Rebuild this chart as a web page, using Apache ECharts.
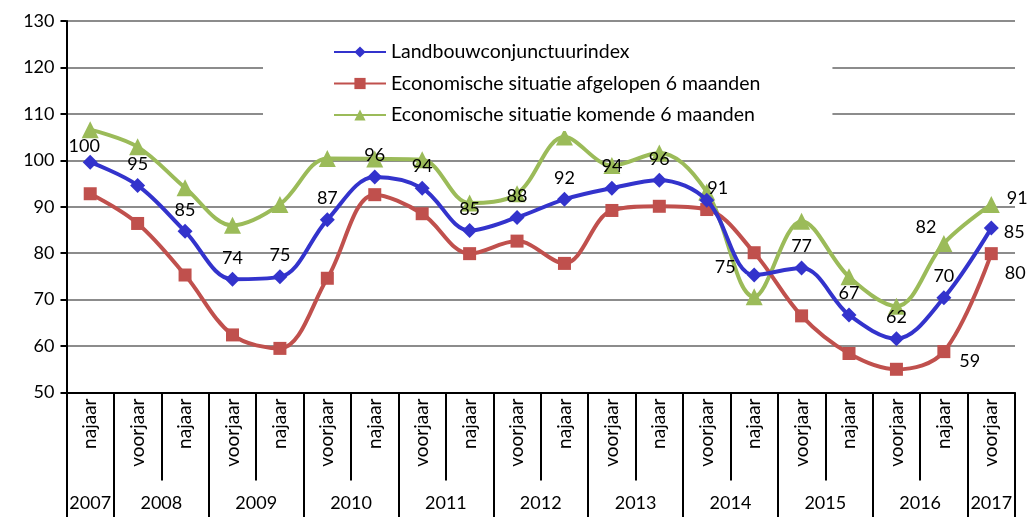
<!DOCTYPE html>
<html>
<head>
<meta charset="utf-8">
<script src="https://cdn.jsdelivr.net/npm/echarts@6/dist/echarts.min.js"></script>
<style>
  html, body { margin: 0; padding: 0; background: #fff; }
  #chart { width: 1031px; height: 517px; }
</style>
</head>
<body>
<div id="chart"></div>
<script>
// ---- data ----
const seasons = ['najaar','voorjaar','najaar','voorjaar','najaar','voorjaar','najaar','voorjaar','najaar','voorjaar',
                 'najaar','voorjaar','najaar','voorjaar','najaar','voorjaar','najaar','voorjaar','najaar','voorjaar'];
const seasonYears = ['2007','2008','2008','2009','2009','2010','2010','2011','2011','2012',
                     '2012','2013','2013','2014','2014','2015','2015','2016','2016','2017'];
const landbouw = [99.6, 94.6, 84.7, 74.4, 74.9, 87.2, 96.4, 94.0, 84.9, 87.7,
                  91.6, 94.0, 95.7, 91.4, 75.3, 76.8, 66.7, 61.6, 70.4, 85.4];
const afgelopen = [92.8, 86.4, 75.3, 62.4, 59.5, 74.6, 92.6, 88.5, 79.9, 82.6,
                   77.8, 89.2, 90.1, 89.4, 80.1, 66.5, 58.4, 55.0, 58.8, 79.9];
const komende = [106.6, 102.9, 94.1, 86.0, 90.5, 100.4, 100.3, 100.1, 90.8, 92.8,
                 105.0, 98.9, 101.6, 93.2, 70.6, 86.9, 74.9, 68.6, 82.1, 90.5];
const seriesNames = ['Landbouwconjunctuurindex', 'Economische situatie afgelopen 6 maanden', 'Economische situatie komende 6 maanden'];
const yTicks = [50, 130, 10]; // min, max, step

// ---- derived year spans ----
const yearList = [];
const yearStart = {}, yearEnd = {};
seasonYears.forEach((y, i) => {
  if (!(y in yearStart)) { yearList.push(y); yearStart[y] = i; }
  yearEnd[y] = i + 1;
});
const yearBounds = yearList.map(y => yearStart[y]).concat([seasons.length]);
const yearCenters = yearList.map(y => (yearStart[y] + yearEnd[y]) / 2);
const centerToYear = {};
yearList.forEach((y, k) => { centerToYear[yearCenters[k]] = y; });

const FONT = 'Lato';
const fmt = p => Math.round(p.value);

// label placement (style only)
const blueLabel = {
  0: { position: 'top', offset: [-6, 6] },
  13: { position: 'right', offset: [-12, -12] },
  14: { position: 'left', offset: [-6, -8] },
  19: { position: 'right', offset: [0, 4] }
};
const redLabel = {
  18: { position: 'right', offset: [4, 10] },
  19: { position: 'right', offset: [2, 20] }
};
const greenLabel = {
  18: { position: 'left', offset: [6, -16] },
  19: { position: 'right', offset: [2, -6] }
};

function build(values, labelMap, showAll) {
  return values.map((v, i) => {
    const item = { value: v };
    if (labelMap[i]) {
      item.label = Object.assign({ show: true }, labelMap[i]);
    } else if (!showAll) {
      item.label = { show: false };
    }
    return item;
  });
}

const chart = echarts.init(document.getElementById('chart'), null, { renderer: 'canvas' });
const labelStyle = { color: '#000', fontFamily: FONT, fontSize: 18, formatter: fmt };

chart.setOption({
  animation: false,
  backgroundColor: '#fff',
  textStyle: { fontFamily: FONT },
  grid: { left: 66.5, right: 16, top: 21, bottom: 124.5, containLabel: false },
  legend: {
    orient: 'vertical',
    left: 263,
    top: 28,
    itemWidth: 52,
    itemHeight: 14,
    itemGap: 11.5,
    padding: [14, 72, 6, 70],
    backgroundColor: '#fff',
    textStyle: { color: '#000', fontFamily: FONT, fontSize: 19.5, lineHeight: 20 },
    data: seriesNames
  },
  xAxis: [
    {
      type: 'category',
      data: seasons,
      boundaryGap: true,
      axisLine: { lineStyle: { color: '#000', width: 2 } },
      axisTick: { show: true, interval: 0, length: 88, lineStyle: { color: '#000', width: 2 } },
      axisLabel: { interval: 0, rotate: 90, margin: 6, color: '#000', fontFamily: FONT, fontSize: 19 },
      splitLine: { show: false }
    },
    {
      type: 'value',
      min: 0,
      max: seasons.length,
      position: 'bottom',
      axisLine: { show: false },
      axisTick: { show: true, customValues: yearBounds, length: 125, lineStyle: { color: '#000', width: 2 } },
      axisLabel: {
        customValues: yearCenters,
        margin: 102,
        color: '#000', fontFamily: FONT, fontSize: 18,
        formatter: v => centerToYear[v] || ''
      },
      splitLine: { show: false }
    }
  ],
  yAxis: {
    type: 'value',
    min: yTicks[0], max: yTicks[1], interval: yTicks[2],
    axisLine: { show: true, lineStyle: { color: '#000', width: 2 } },
    axisTick: { show: true, length: 6, lineStyle: { color: '#000', width: 2 } },
    axisLabel: { color: '#000', fontFamily: FONT, fontSize: 18, margin: 12 },
    splitLine: { show: true, lineStyle: { color: '#8c8c8c', width: 2 } }
  },
  series: [
    {
      name: seriesNames[0], type: 'line', xAxisIndex: 0, smooth: 0.35,
      data: build(landbouw, blueLabel, true),
      symbol: 'diamond', symbolSize: 15,
      lineStyle: { color: '#3333CC', width: 4 },
      itemStyle: { color: '#3333CC' },
      label: Object.assign({ show: true, position: 'top', distance: 5 }, labelStyle),
      z: 4
    },
    {
      name: seriesNames[1], type: 'line', xAxisIndex: 0, smooth: 0.35,
      data: build(afgelopen, redLabel, false),
      symbol: 'rect', symbolSize: 13,
      lineStyle: { color: '#C0504D', width: 4 },
      itemStyle: { color: '#C0504D' },
      label: Object.assign({ show: false }, labelStyle),
      z: 3
    },
    {
      name: seriesNames[2], type: 'line', xAxisIndex: 0, smooth: 0.35,
      data: build(komende, greenLabel, false),
      symbol: 'triangle', symbolSize: 17,
      lineStyle: { color: '#9BBB59', width: 4 },
      itemStyle: { color: '#9BBB59' },
      label: Object.assign({ show: false }, labelStyle),
      z: 2
    }
  ]
});
</script>
</body>
</html>
